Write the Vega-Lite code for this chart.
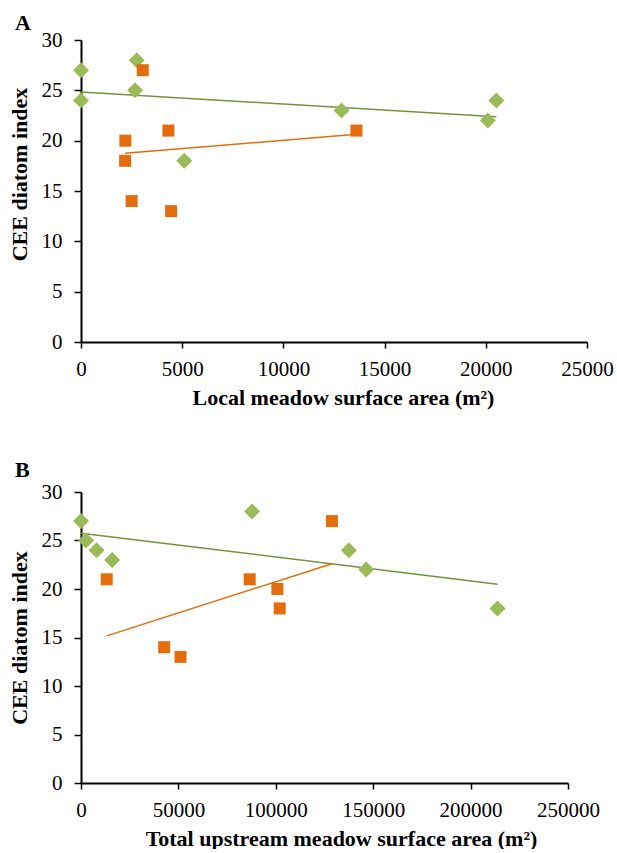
{
  "$schema": "https://vega.github.io/schema/vega-lite/v6.json",
  "background": "white",
  "padding": {"left": 8, "top": 12, "right": 10, "bottom": 0},
  "config": {
    "font": "Liberation Serif",
    "view": {"stroke": null},
    "axis": {
      "domainColor": "black", "domainWidth": 2, "tickColor": "black", "tickWidth": 1.5,
      "labelColor": "black", "labelFont": "Liberation Serif", "labelFontSize": 21,
      "titleFont": "Liberation Serif", "titleFontSize": 22, "titleFontWeight": "bold", "titleColor": "black",
      "grid": false, "labelFlush": false, "labelOverlap": false, "labelBound": false
    },
    "axisY": {"titlePadding": 10, "tickSize": 7, "labelPadding": 12},
    "axisX": {"titlePadding": 8, "tickSize": 6, "labelPadding": 10},
    "title": {"font": "Liberation Serif", "fontSize": 22, "fontWeight": "bold", "anchor": "start", "frame": "bounds", "color": "black", "dx": 7},
    "concat": {"spacing": 51}
  },
  "datasets": {
    "a": [
      {"group": "green", "x": 0, "y": 27},
      {"group": "green", "x": 0, "y": 24},
      {"group": "green", "x": 2750, "y": 28},
      {"group": "green", "x": 2670, "y": 25},
      {"group": "green", "x": 5100, "y": 18},
      {"group": "green", "x": 12870, "y": 23},
      {"group": "green", "x": 20100, "y": 22},
      {"group": "green", "x": 20520, "y": 24},
      {"group": "orange", "x": 2190, "y": 20},
      {"group": "orange", "x": 2180, "y": 18},
      {"group": "orange", "x": 2500, "y": 14},
      {"group": "orange", "x": 3050, "y": 27},
      {"group": "orange", "x": 4320, "y": 21},
      {"group": "orange", "x": 4450, "y": 13},
      {"group": "orange", "x": 13610, "y": 21}
    ],
    "b": [
      {"group": "green", "x": 0, "y": 27},
      {"group": "green", "x": 2600, "y": 25},
      {"group": "green", "x": 8000, "y": 24},
      {"group": "green", "x": 16000, "y": 23},
      {"group": "green", "x": 87800, "y": 28},
      {"group": "green", "x": 137500, "y": 24},
      {"group": "green", "x": 146400, "y": 22},
      {"group": "green", "x": 213800, "y": 18},
      {"group": "orange", "x": 13200, "y": 21},
      {"group": "orange", "x": 42700, "y": 14},
      {"group": "orange", "x": 51100, "y": 13},
      {"group": "orange", "x": 86600, "y": 21},
      {"group": "orange", "x": 100800, "y": 20},
      {"group": "orange", "x": 102000, "y": 18},
      {"group": "orange", "x": 128800, "y": 27}
    ]
  },
  "vconcat": [
    {
      "title": {"text": "A", "offset": -6},
      "width": 506, "height": 302,
      "data": {"name": "a"},
      "layer": [
        {
          "transform": [{"regression": "y", "on": "x", "groupby": ["group"]}],
          "mark": {"type": "line", "strokeWidth": 1.5},
          "encoding": {
            "x": {"field": "x", "type": "quantitative"},
            "y": {"field": "y", "type": "quantitative"},
            "color": {"field": "group", "type": "nominal", "scale": {"domain": ["green", "orange"], "range": ["#76923C", "#E46C0A"]}, "legend": null}
          }
        },
        {
          "mark": {"type": "point", "filled": true, "opacity": 1},
          "encoding": {
            "x": {"field": "x", "type": "quantitative", "scale": {"domain": [0, 25000], "nice": false, "zero": true},
                  "axis": {"values": [0, 5000, 10000, 15000, 20000, 25000], "format": "d", "title": "Local meadow surface area (m²)", "titleX": 262}},
            "y": {"field": "y", "type": "quantitative", "scale": {"domain": [0, 30], "nice": false},
                  "axis": {"values": [0, 5, 10, 15, 20, 25, 30], "title": "CEE diatom index", "titleY": 134}},
            "fill": {"field": "group", "type": "nominal", "scale": {"domain": ["green", "orange"], "range": ["#9BBB59", "#E46C0A"]}, "legend": null},
            "shape": {"field": "group", "type": "nominal", "scale": {"domain": ["green", "orange"], "range": ["diamond", "square"]}, "legend": null},
            "size": {"field": "group", "type": "nominal", "scale": {"domain": ["green", "orange"], "range": [256, 144]}, "legend": null}
          }
        }
      ],
      "resolve": {"scale": {"color": "independent"}}
    },
    {
      "title": {"text": "B", "offset": -1},
      "width": 487, "height": 291,
      "data": {"name": "b"},
      "layer": [
        {
          "transform": [{"regression": "y", "on": "x", "groupby": ["group"]}],
          "mark": {"type": "line", "strokeWidth": 1.5},
          "encoding": {
            "x": {"field": "x", "type": "quantitative"},
            "y": {"field": "y", "type": "quantitative"},
            "color": {"field": "group", "type": "nominal", "scale": {"domain": ["green", "orange"], "range": ["#76923C", "#E46C0A"]}, "legend": null}
          }
        },
        {
          "mark": {"type": "point", "filled": true, "opacity": 1},
          "encoding": {
            "x": {"field": "x", "type": "quantitative", "scale": {"domain": [0, 250000], "nice": false, "zero": true},
                  "axis": {"values": [0, 50000, 100000, 150000, 200000, 250000], "format": "d", "title": "Total upstream meadow surface area (m²)", "titleX": 260}},
            "y": {"field": "y", "type": "quantitative", "scale": {"domain": [0, 30], "nice": false},
                  "axis": {"values": [0, 5, 10, 15, 20, 25, 30], "title": "CEE diatom index"}},
            "fill": {"field": "group", "type": "nominal", "scale": {"domain": ["green", "orange"], "range": ["#9BBB59", "#E46C0A"]}, "legend": null},
            "shape": {"field": "group", "type": "nominal", "scale": {"domain": ["green", "orange"], "range": ["diamond", "square"]}, "legend": null},
            "size": {"field": "group", "type": "nominal", "scale": {"domain": ["green", "orange"], "range": [256, 144]}, "legend": null}
          }
        }
      ],
      "resolve": {"scale": {"color": "independent"}}
    }
  ]
}
